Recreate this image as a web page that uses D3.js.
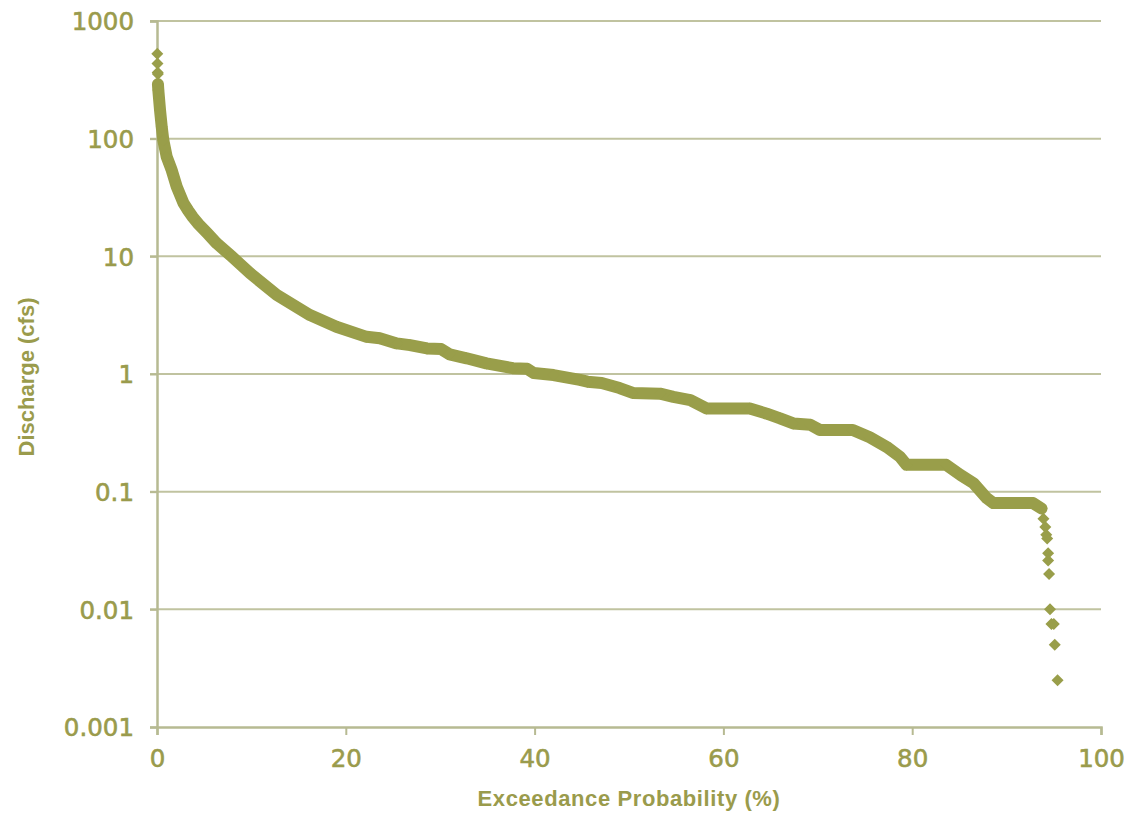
<!DOCTYPE html>
<html>
<head>
<meta charset="utf-8">
<script src="https://cdn.jsdelivr.net/npm/d3@7"></script>
<style>
  html, body { margin: 0; padding: 0; background: #fff; }
  svg { display: block; }
</style>
</head>
<body>
<svg id="chart" width="1146" height="814"></svg>
<script>
// ---- data ----
const xTicks = [0, 20, 40, 60, 80, 100];
const yTicks = [0.001, 0.01, 0.1, 1, 10, 100, 1000];
const yTickLabels = ["0.001", "0.01", "0.1", "1", "10", "100", "1000"];

// continuous band of the flow-duration curve (exceedance %, discharge cfs)
const bandProb = [0.1, 0.14, 0.32, 0.5, 0.67, 1.03, 1.56, 2.09, 2.79, 3.3, 3.8, 4.4, 5.3, 6.32, 7.9, 9.85, 12.68, 16.2, 19.0, 22.2, 23.6, 25.4, 26.8, 28.6, 30.1, 31.0, 32.8, 34.9, 37.7, 39.2, 39.9, 42.0, 44.8, 45.6, 47.1, 49.0, 50.4, 53.3, 54.7, 56.5, 58.2, 62.8, 64.6, 66.0, 67.4, 69.2, 70.2, 73.7, 75.5, 77.3, 78.7, 79.4, 83.6, 85.1, 86.5, 87.9, 88.6, 92.8, 93.7];
const bandQ    = [290, 259, 175, 126, 97, 70, 54, 39, 28.5, 24.5, 21.5, 18.8, 15.8, 12.9, 10, 7.2, 4.7, 3.17, 2.52, 2.07, 2.01, 1.82, 1.76, 1.65, 1.63, 1.47, 1.36, 1.23, 1.12, 1.11, 1.02, 0.98, 0.89, 0.86, 0.84, 0.76, 0.69, 0.68, 0.64, 0.60, 0.51, 0.51, 0.46, 0.42, 0.38, 0.37, 0.335, 0.335, 0.29, 0.24, 0.198, 0.169, 0.169, 0.139, 0.118, 0.088, 0.08, 0.08, 0.072];

// isolated points at the extremes
const tailProb = [0.03, 0.05, 0.07, 0.09, 93.9, 94.1, 94.2, 94.3, 94.4, 94.4, 94.5, 94.6, 94.75, 95.0, 95.1, 95.4];
const tailQ    = [528, 435, 365, 355, 0.059, 0.050, 0.043, 0.040, 0.030, 0.026, 0.020, 0.010, 0.0075, 0.0075, 0.005, 0.0025];

const xTitle = "Exceedance Probability (%)";
const yTitle = "Discharge (cfs)";

// ---- styles ----
const markerColor = "#999E4A";
const textColor = "#9A9B4C";
const gridColor = "#C0C3A0";
const axisColor = "#B7BA92";

const svg = d3.select("#chart");
const plotL = 157, plotR = 1101, plotT = 21, plotB = 727;

const x = d3.scaleLinear().domain([0, 100]).range([plotL, plotR]);
const y = d3.scaleLog().domain([0.001, 1000]).range([plotB, plotT]);

// gridlines
svg.append("g").selectAll("line")
  .data(yTicks.filter(v => v > 0.001))
  .join("line")
  .attr("x1", plotL - 7).attr("x2", plotR)
  .attr("y1", d => y(d)).attr("y2", d => y(d))
  .attr("stroke", gridColor).attr("stroke-width", 2);

// y axis
const yAxis = d3.axisLeft(y).tickValues(yTicks)
  .tickFormat((d, i) => yTickLabels[i]).tickSize(7).tickPadding(16);
const gy = svg.append("g").attr("transform", `translate(${plotL},0)`).call(yAxis);
gy.select(".domain").attr("stroke", axisColor).attr("stroke-width", 2.5);
gy.selectAll(".tick line").attr("stroke", axisColor).attr("stroke-width", 2);
gy.selectAll(".tick text")
  .attr("fill", textColor)
  .attr("stroke", textColor).attr("stroke-width", 0.6)
  .attr("font-family", "DejaVu Sans")
  .attr("font-size", 24.5)
  .attr("dy", "0.36em");

// x axis
const xAxis = d3.axisBottom(x).tickValues(xTicks).tickSize(8).tickPadding(15);
const gx = svg.append("g").attr("transform", `translate(0,${plotB})`).call(xAxis);
gx.select(".domain").attr("stroke", axisColor).attr("stroke-width", 2.5);
gx.selectAll(".tick line").attr("stroke", axisColor).attr("stroke-width", 2);
gx.selectAll(".tick text")
  .attr("fill", textColor)
  .attr("stroke", textColor).attr("stroke-width", 0.6)
  .attr("font-family", "DejaVu Sans")
  .attr("font-size", 24.5);

// band
const band = bandProb.map((p, i) => [p, bandQ[i]]);
svg.append("path")
  .datum(band)
  .attr("d", d3.line().x(d => x(d[0])).y(d => y(d[1])))
  .attr("fill", "none")
  .attr("stroke", markerColor)
  .attr("stroke-width", 12)
  .attr("stroke-linejoin", "round")
  .attr("stroke-linecap", "round");

// diamond markers
const diamond = d3.symbol().type(d3.symbolSquare).size(72);
const pts = band.concat(tailProb.map((p, i) => [p, tailQ[i]]));
svg.append("g").selectAll("path")
  .data(pts)
  .join("path")
  .attr("d", diamond)
  .attr("transform", d => `translate(${x(d[0])},${y(d[1])}) rotate(45)`)
  .attr("fill", markerColor);

// axis titles
svg.append("text")
  .attr("x", (plotL + plotR) / 2).attr("y", 806)
  .attr("text-anchor", "middle")
  .attr("font-family", "Liberation Sans")
  .attr("font-weight", "bold")
  .attr("font-size", 22)
  .attr("letter-spacing", 0.6)
  .attr("fill", textColor)
  .text(xTitle);

svg.append("text")
  .attr("transform", `translate(34,${(plotT + plotB) / 2 + 3}) rotate(-90)`)
  .attr("text-anchor", "middle")
  .attr("font-family", "Liberation Sans")
  .attr("font-weight", "bold")
  .attr("font-size", 22)
  .attr("fill", textColor)
  .text(yTitle);
</script>
</body>
</html>
